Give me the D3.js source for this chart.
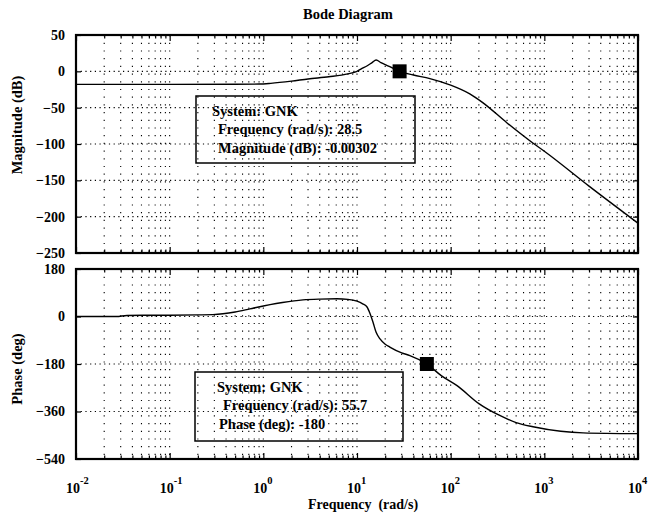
<!DOCTYPE html>
<meta charset="utf-8">
<script src="https://d3js.org/d3.v7.min.js"></script>
<style>
  body { margin: 0; background: #fff; }
  text { font-family: "Liberation Serif", "Times New Roman", serif; font-weight: bold; fill: #000; }
</style>
<body>
<div id="chart"></div>
<script>
// frequency decades shown on the x axis (10^k)
const decades = [-2, -1, 0, 1, 2, 3, 4];
const magTicks = [50, 0, -50, -100, -150, -200, -250];
const phaseTicks = [180, 0, -180, -360, -540];

// magnitude response
const magFreq = [0.01, 0.1, 0.5, 0.9, 1.2, 2, 3, 5, 8, 10, 11, 13, 14.5, 16, 18, 21, 25, 28.5, 40, 60, 100, 160, 220, 400, 760, 1000, 3000, 10000];
const magDb   = [-18, -18, -17.8, -17.5, -16.5, -13.5, -10.5, -7.5, -3.5, 0, 3, 8, 12, 15.5, 12, 8, 3.5, 0, -5, -10, -19, -31, -43, -71, -99, -110, -158, -209];

// phase response
const phFreq = [0.01, 0.027, 0.035, 0.1, 0.2, 0.29, 0.5, 0.72, 1, 1.18, 1.6, 2.65, 4, 6.1, 8, 10, 11.5, 12.8, 13.8, 14.8, 16, 17.6, 20, 22.4, 30, 36.7, 55.7, 80, 117, 200, 334, 500, 757, 1500, 2590, 10000];
const phDeg  = [0, 0, 4, 5, 6, 7, 17, 29, 40, 45, 53, 63, 66, 67, 65, 58, 48, 36, 10, -21, -60, -85, -105, -116, -138, -148, -180, -225, -262, -330, -375, -402, -418, -435, -441, -444];

// data tips
const magTip = { f: 28.5, v: -0.00302 };
const phTip  = { f: 55.7, v: -180 };
const magTipLines = ["System: GNK", "Frequency (rad/s): 28.5", "Magnitude (dB): -0.00302"];
const phTipLines  = ["System: GNK", "Frequency (rad/s): 55.7", "Phase (deg): -180"];

const W = 649, H = 514;
const svg = d3.select("#chart").append("svg")
  .attr("width", W).attr("height", H);

const x = d3.scaleLog().domain([1e-2, 1e4]).range([76, 638]);
const yMag = d3.scaleLinear().domain([-250, 50]).range([253, 35]);
const yPh = d3.scaleLinear().domain([-540, 180]).range([459, 269]);

const minor = [];
decades.slice(0, -1).forEach(k => { for (let m = 2; m <= 9; m++) minor.push(m * Math.pow(10, k)); });
const majors = decades.map(k => Math.pow(10, k));

function panel(y, ticks, top, bottom) {
  const g = svg.append("g");
  const [x0, x1] = x.range();

  // dotted grid
  g.append("g").selectAll("line").data(majors.concat(minor)).join("line")
    .attr("x1", d => x(d)).attr("x2", d => x(d))
    .attr("y1", top).attr("y2", bottom)
    .attr("stroke", "#000").attr("stroke-width", 1.1)
    .attr("stroke-dasharray", "1.2,6.5");
  g.append("g").selectAll("line").data(ticks.slice(1, -1)).join("line")
    .attr("x1", x0).attr("x2", x1)
    .attr("y1", d => y(d)).attr("y2", d => y(d))
    .attr("stroke", "#000").attr("stroke-width", 1.1)
    .attr("stroke-dasharray", "1.2,3.5");

  // ticks (inward) via d3 axes
  const tickStyle = s => s.call(a => a.select(".domain").remove())
    .call(a => a.selectAll("line").attr("stroke-width", 1.2));
  g.append("g").attr("transform", `translate(0,${bottom})`)
    .call(d3.axisBottom(x).tickValues(majors).tickSize(-6).tickFormat("")).call(tickStyle);
  g.append("g").attr("transform", `translate(0,${bottom})`)
    .call(d3.axisBottom(x).tickValues(minor).tickSize(-3.5).tickFormat("")).call(tickStyle);
  g.append("g").attr("transform", `translate(0,${top})`)
    .call(d3.axisTop(x).tickValues(majors).tickSize(-6).tickFormat("")).call(tickStyle);
  g.append("g").attr("transform", `translate(0,${top})`)
    .call(d3.axisTop(x).tickValues(minor).tickSize(-3.5).tickFormat("")).call(tickStyle);
  g.append("g").attr("transform", `translate(${x1},0)`)
    .call(d3.axisRight(y).tickValues(ticks).tickSize(-5).tickFormat("")).call(tickStyle);
  g.append("g").attr("transform", `translate(${x0},0)`)
    .call(d3.axisLeft(y).tickValues(ticks).tickSize(-5).tickPadding(11)).call(tickStyle)
    .call(a => a.selectAll("text").attr("font-size", 14).attr("font-family", "Liberation Serif").attr("font-weight", "bold"));

  g.append("rect").attr("x", x0).attr("y", top).attr("width", x1 - x0).attr("height", bottom - top)
    .attr("fill", "none").attr("stroke", "#000").attr("stroke-width", 2.2);
  return g;
}

const gMag = panel(yMag, magTicks, 35, 253);
const gPh = panel(yPh, phaseTicks, 269, 459);

const line = (yS) => d3.line().x(d => x(d[0])).y(d => yS(d[1])).curve(d3.curveMonotoneX);

gMag.append("path").datum(d3.zip(magFreq, magDb)).attr("d", line(yMag))
  .attr("fill", "none").attr("stroke", "#000").attr("stroke-width", 1.4);
gPh.append("path").datum(d3.zip(phFreq, phDeg)).attr("d", line(yPh))
  .attr("fill", "none").attr("stroke", "#000").attr("stroke-width", 1.4);

// data tip markers
[[gMag, yMag, magTip], [gPh, yPh, phTip]].forEach(([g, y, t]) => {
  g.append("rect").attr("x", x(t.f) - 7).attr("y", y(t.v) - 7)
    .attr("width", 14).attr("height", 14).attr("fill", "#000");
});

// data tip boxes
function tipBox(g, bx, by, bw, bh, lines, offs) {
  g.append("rect").attr("x", bx).attr("y", by).attr("width", bw).attr("height", bh)
    .attr("fill", "none").attr("stroke", "#000").attr("stroke-width", 1.5);
  g.selectAll(null).data(lines).join("text")
    .attr("x", (d, i) => bx + offs[i]).attr("y", (d, i) => by + 19.5 + i * 18.5)
    .attr("font-size", 14.5).text(d => d);
}
tipBox(gMag, 196, 96, 219, 67, magTipLines, [16, 22, 22]);
tipBox(gPh, 195, 372, 208, 69, phTipLines, [22, 28, 24]);

// x tick labels 10^k
svg.append("g").selectAll("text").data(decades).join("text")
  .attr("x", d => x(Math.pow(10, d)) - 10).attr("y", 493)
  .attr("font-size", 14)
  .call(t => t.append("tspan").text("10"))
  .call(t => t.append("tspan").attr("dy", -9).attr("font-size", 10.5).text(d => d));

// titles
svg.append("text").attr("x", 348).attr("y", 19).attr("text-anchor", "middle")
  .attr("font-size", 14.5).text("Bode Diagram");
svg.append("text").attr("x", 363).attr("y", 509).attr("text-anchor", "middle")
  .attr("font-size", 14).attr("xml:space", "preserve").text("Frequency  (rad/s)");
svg.append("text").attr("transform", "translate(22,125) rotate(-90)").attr("text-anchor", "middle")
  .attr("font-size", 14.5).text("Magnitude (dB)");
svg.append("text").attr("transform", "translate(22,369) rotate(-90)").attr("text-anchor", "middle")
  .attr("font-size", 14.5).text("Phase (deg)");
</script>
</body>
